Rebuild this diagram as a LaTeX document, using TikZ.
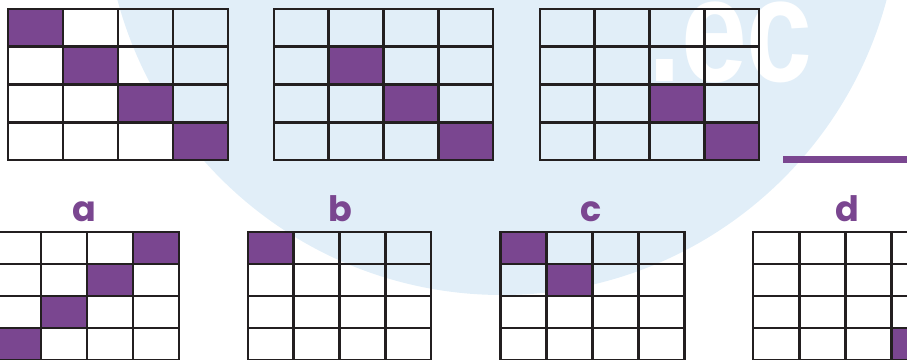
\documentclass[tikz,border=0pt]{standalone}
\usepackage{fontspec}
\setmainfont{Poppins}
\newfontfamily\wmfont{Liberation Sans}
\definecolor{qpurple}{HTML}{7A4690}
\definecolor{qline}{HTML}{231F20}
\definecolor{wmblue}{HTML}{E1EEF8}
\tikzset{
  gridline/.style={draw=qline, line width=2.8pt, line cap=rect},
  cellfill/.style={fill=qpurple},
  optlabel/.style={text=qpurple, font=\fontsize{35}{35}\selectfont\bfseries, anchor=base, inner sep=0pt},
}
% #1 x0, #2 y0, #3 cell width, #4 cell height, #5 list of filled cells col/row
\newcommand\quizgrid[5]{%
  \foreach \cc/\rr in {#5}{%
    \fill[cellfill] ({#1+(\cc-1)*#3},{#2+(\rr-1)*#4}) rectangle ++(#3,#4);
  }%
  \foreach \k in {0,...,4}{%
    \draw[gridline] ({#1+\k*#3},#2) -- ({#1+\k*#3},{#2+4*#4});
    \draw[gridline] (#1,{#2+\k*#4}) -- ({#1+4*#3},{#2+\k*#4});
  }%
}
\begin{document}
\begin{tikzpicture}[x=1pt,y=-1pt]
\useasboundingbox (0,0) rectangle (907,359);
\begin{scope}
\clip (0,0) rectangle (907,359);
% watermark
\fill[wmblue] (502,-103) circle (398);
\node[anchor=base west, inner sep=0pt, text=white, xscale=0.8, font=\wmfont\fontsize{148}{148}\selectfont\bfseries] (wm) at (648,81) {.ec};
% top row
\quizgrid{8}{9}{55}{37.75}{1/1,2/2,3/3,4/4}
\quizgrid{274}{9}{54.75}{37.75}{2/2,3/3,4/4}
\quizgrid{540}{9}{54.75}{37.75}{3/3,4/4}
\fill[qpurple] (783,156) rectangle (907,163);
% answers
\quizgrid{-5}{232}{46}{32}{4/1,3/2,2/3,1/4}
\quizgrid{248}{232}{45.75}{32}{1/1}
\quizgrid{500.5}{232}{45.9}{32}{1/1,2/2}
\quizgrid{753}{232}{46.2}{32}{4/4}
\end{scope}
\node[optlabel] (la) at (84,221) {a};
\node[optlabel] (lb) at (340,221) {b};
\node[optlabel] (lc) at (591,221) {c};
\node[optlabel] (ld) at (847,221) {d};
\end{tikzpicture}
\end{document}
